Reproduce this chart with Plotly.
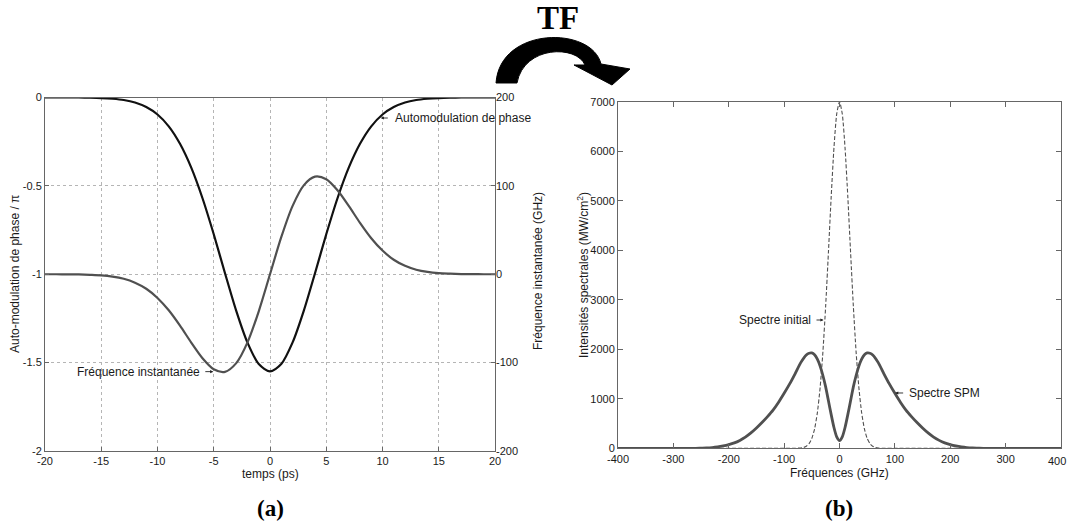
import plotly.graph_objects as go

W, H = 1068, 526

# ---------------- (a) data : time domain ----------------
t_ps = [-20, -19, -18, -17, -16, -15, -14, -13, -12, -11, -10, -9, -8, -7, -6, -5, -4, -3, -2, -1,
        0, 1, 2, 3, 4, 5, 6, 7, 8, 9, 10, 11, 12, 13, 14, 15, 16, 17, 18, 19, 20]
phase_over_pi = [0, 0, 0, 0, -0.001, -0.003, -0.007, -0.014, -0.028, -0.054, -0.096, -0.163, -0.262,
                 -0.397, -0.570, -0.774, -0.994, -1.207, -1.387, -1.508, -1.550, -1.508, -1.387,
                 -1.207, -0.994, -0.774, -0.570, -0.397, -0.262, -0.163, -0.096, -0.054, -0.028,
                 -0.014, -0.007, -0.003, -0.001, 0, 0, 0, 0]
freq_ghz = [0, 0, -0.1, -0.2, -0.6, -1.2, -2.6, -5.1, -9.5, -16.4, -26.8, -40.8, -58.2, -77.3, -95.0,
            -107.5, -110.4, -100.6, -77.1, -41.9, 0, 41.9, 77.1, 100.6, 110.4, 107.5, 95.0, 77.3,
            58.2, 40.8, 26.8, 16.4, 9.5, 5.1, 2.6, 1.2, 0.6, 0.2, 0.1, 0, 0]

# ---------------- (b) data : spectra ----------------
f_spm = [-400, -260, -250, -240, -230, -220, -210, -200, -190, -180, -170, -160, -150, -140, -130,
         -120, -110, -100, -90, -80, -70, -60, -55, -50, -45, -40, -35, -30, -25, -20, -15, -10, -5,
         0, 5, 10, 15, 20, 25, 30, 35, 40, 45, 50, 55, 60, 70, 80, 90, 100, 110, 120, 130, 140,
         150, 160, 170, 180, 190, 200, 210, 220, 230, 240, 250, 260, 400]
spm = [0, 0, 3, 7, 15, 28, 48, 75, 110, 160, 225, 310, 410, 520, 640, 770, 930, 1110, 1300, 1510,
       1730, 1885, 1920, 1925, 1890, 1800, 1660, 1470, 1240, 960, 680, 420, 230,
       155, 230, 420, 680, 960, 1240, 1470, 1660, 1800, 1890, 1925, 1920, 1885, 1730, 1510, 1300,
       1110, 930, 770, 640, 520, 410, 310, 225, 160, 110, 75, 48, 28, 15, 7, 3, 0, 0]

f_init = [-400, -100, -80, -70, -65, -60, -55, -50, -45, -40, -35, -30, -25, -20, -15, -10, -5, 0,
          5, 10, 15, 20, 25, 30, 35, 40, 45, 50, 55, 60, 65, 70, 80, 100, 400]
initial = [0, 0, 1, 6, 17, 41, 94, 199, 391, 717, 1224, 1943, 2873, 3960, 5082, 6070, 6755, 7000,
           6755, 6070, 5082, 3960, 2873, 1943, 1224, 717, 391, 199, 94, 41, 17, 6, 1, 0, 0]

# ---------------- ticks ----------------
xa_vals = [-20, -15, -10, -5, 0, 5, 10, 15, 20]
xa_text = ["-20", "-15", "-10", "-5", "0", "5", "10", "15", "20"]
ya_vals = [-2, -1.5, -1, -0.5, 0]
ya_text = ["-2", "-1.5", "-1", "-0.5", "0"]
y2a_vals = [-200, -100, 0, 100, 200]
y2a_text = ["-200", "-100", "0", "100", "200"]
xb_vals = [-400, -300, -200, -100, 0, 100, 200, 300, 400]
xb_text = ["-400", "-300", "-200", "-100", "0", "100", "200", "300", "400"]
yb_vals = [0, 1000, 2000, 3000, 4000, 5000, 6000, 7000]
yb_text = ["0", "1000", "2000", "3000", "4000", "5000", "6000", "7000"]

FONT = "Liberation Sans, Arial, sans-serif"
SERIF = "Liberation Serif, Times New Roman, serif"
TXT = "#1a1a1a"
AX = "#666666"

fig = go.Figure()
fig.add_trace(go.Scatter(x=t_ps, y=phase_over_pi, mode="lines", line=dict(color="#111111", width=2.2, shape="spline", smoothing=0.8),
                         xaxis="x", yaxis="y", showlegend=False))
fig.add_trace(go.Scatter(x=t_ps, y=freq_ghz, mode="lines", line=dict(color="#505050", width=2.2, shape="spline", smoothing=0.8),
                         xaxis="x", yaxis="y2", showlegend=False))
fig.add_trace(go.Scatter(x=f_init, y=initial, mode="lines", line=dict(color="#505050", width=1.1, dash="4px,2px", shape="spline", smoothing=0.6),
                         xaxis="x2", yaxis="y3", showlegend=False))
fig.add_trace(go.Scatter(x=f_spm, y=spm, mode="lines", line=dict(color="#505050", width=2.8, shape="spline", smoothing=0.6),
                         xaxis="x2", yaxis="y3", showlegend=False))

tickfont = dict(family=FONT, size=11, color=TXT)

# last x label of panel (b) sits against the page edge: drawn separately right-aligned
xb_text_axis = xb_text[:-1] + [""]

fig.update_layout(
    width=W, height=H, margin=dict(l=0, r=0, t=0, b=0),
    paper_bgcolor="white", plot_bgcolor="white",
    xaxis=dict(domain=[45 / W, 495 / W], range=[-20, 20], tickvals=xa_vals, ticktext=xa_text,
               ticks="inside", ticklen=4, tickcolor=AX, showline=True, linecolor=AX, linewidth=1,
               mirror=True, showgrid=True, gridcolor="#b5b5b5", griddash="dot", gridwidth=1,
               zeroline=False, anchor="y", tickfont=tickfont, automargin=False),
    yaxis=dict(domain=[1 - 451 / H, 1 - 97.5 / H], range=[-2, 0], tickvals=ya_vals, ticktext=ya_text,
               ticks="inside", ticklen=4, tickcolor=AX, showline=True, linecolor=AX, linewidth=1,
               mirror=True, showgrid=True, gridcolor="#b5b5b5", griddash="dot", gridwidth=1,
               zeroline=False, anchor="x", tickfont=tickfont, automargin=False),
    yaxis2=dict(overlaying="y", side="right", range=[-200, 200], tickvals=y2a_vals, ticktext=y2a_text,
                ticks="inside", ticklen=4, tickcolor=AX, showline=False, showgrid=False,
                zeroline=False, anchor="x", tickfont=tickfont, automargin=False),
    xaxis2=dict(domain=[618 / W, 1061 / W], range=[-400, 400], tickvals=xb_vals, ticktext=xb_text_axis,
                ticks="inside", ticklen=5, tickcolor=AX, showline=True, linecolor=AX, linewidth=1,
                mirror="ticks", showgrid=False, zeroline=False, anchor="y3", tickfont=tickfont,
                automargin=False),
    yaxis3=dict(domain=[1 - 448.3 / H, 1 - 101.7 / H], range=[0, 7000], tickvals=yb_vals, ticktext=yb_text,
                ticks="inside", ticklen=5, tickcolor=AX, showline=True, linecolor=AX, linewidth=1,
                mirror="ticks", showgrid=False, zeroline=False, anchor="x2", tickfont=tickfont,
                automargin=False),
)

ann = []
tfont = dict(family=FONT, size=12, color=TXT)
ann.append(dict(text=xb_text[-1], x=1.0, y=1 - 461 / H, xref="paper", yref="paper",
                showarrow=False, font=tickfont, xanchor="right", yanchor="middle"))
# axis titles
ann.append(dict(text="temps (ps)", x=270 / W, y=1 - 474 / H, xref="paper", yref="paper",
                showarrow=False, font=tfont, xanchor="center", yanchor="middle"))
ann.append(dict(text="Auto-modulation de phase / π", x=15 / W, y=1 - 274 / H, xref="paper", yref="paper",
                showarrow=False, font=tfont, textangle=-90, xanchor="center", yanchor="middle"))
ann.append(dict(text="Fréquence instantanée (GHz)", x=538 / W, y=1 - 271 / H, xref="paper", yref="paper",
                showarrow=False, font=tfont, textangle=-90, xanchor="center", yanchor="middle"))
ann.append(dict(text="Intensités spectrales (MW/cm<sup>2</sup>)", x=583 / W, y=1 - 275 / H, xref="paper", yref="paper",
                showarrow=False, font=tfont, textangle=-90, xanchor="center", yanchor="middle"))
ann.append(dict(text="Fréquences (GHz)", x=839 / W, y=1 - 473 / H, xref="paper", yref="paper",
                showarrow=False, font=tfont, xanchor="center", yanchor="middle"))
# panel labels
bfont = dict(family=SERIF, size=23, color="#000000")
ann.append(dict(text="<b>(a)</b>", x=270 / W, y=1 - 508 / H, xref="paper", yref="paper",
                showarrow=False, font=bfont, xanchor="center", yanchor="middle"))
ann.append(dict(text="<b>(b)</b>", x=839 / W, y=1 - 508 / H, xref="paper", yref="paper",
                showarrow=False, font=bfont, xanchor="center", yanchor="middle"))
ann.append(dict(text="<b>TF</b>", x=558 / W, y=1 - 18 / H, xref="paper", yref="paper",
                showarrow=False, font=dict(family=SERIF, size=33, color="#000000"),
                xanchor="center", yanchor="middle"))

# curve labels with small arrows
arrow = dict(showarrow=True, arrowhead=2, arrowsize=0.7, arrowwidth=0.9, arrowcolor="#222222",
             text=" ", standoff=0, startstandoff=0, axref="pixel", ayref="pixel")
ann.append(dict(x=9.85, y=-0.116, xref="x", yref="y", ax=10, ay=0, **arrow))
ann.append(dict(text="Automodulation de phase", x=10.95, y=-0.116, xref="x", yref="y", showarrow=False,
                font=tfont, xanchor="left", yanchor="middle"))
ann.append(dict(x=-5.04, y=-1.551, xref="x", yref="y", ax=-11, ay=0, **arrow))
ann.append(dict(text="Fréquence instantanée", x=-6.05, y=-1.551, xref="x", yref="y", showarrow=False,
                font=tfont, xanchor="right", yanchor="middle"))
ann.append(dict(x=-28.9, y=2591, xref="x2", yref="y3", ax=-10, ay=0, **arrow))
ann.append(dict(text="Spectre initial", x=-47.5, y=2591, xref="x2", yref="y3", showarrow=False,
                font=tfont, xanchor="right", yanchor="middle"))
ann.append(dict(x=100.5, y=1117, xref="x2", yref="y3", ax=11, ay=0, **arrow))
ann.append(dict(text="Spectre SPM", x=121.5, y=1117, xref="x2", yref="y3", showarrow=False,
                font=tfont, xanchor="left", yanchor="middle"))
fig.update_layout(annotations=ann)


# curved "TF" arrow drawn as a filled path in paper coordinates
def P(px, py):
    return f"{px / W:.5f},{1 - py / H:.5f}"


path = ("M " + P(496, 83) + " C " + P(500, 26) + " " + P(592, 26) + " " + P(601, 64) +
        " L " + P(630, 69) + " L " + P(612, 85) + " L " + P(574, 65) + " L " + P(585, 65) +
        " C " + P(577, 45) + " " + P(524, 45) + " " + P(517, 83) + " Z")
fig.add_shape(type="path", path=path, xref="paper", yref="paper", fillcolor="#000000",
              line=dict(color="#000000", width=1))

fig.write_html("out.html")
